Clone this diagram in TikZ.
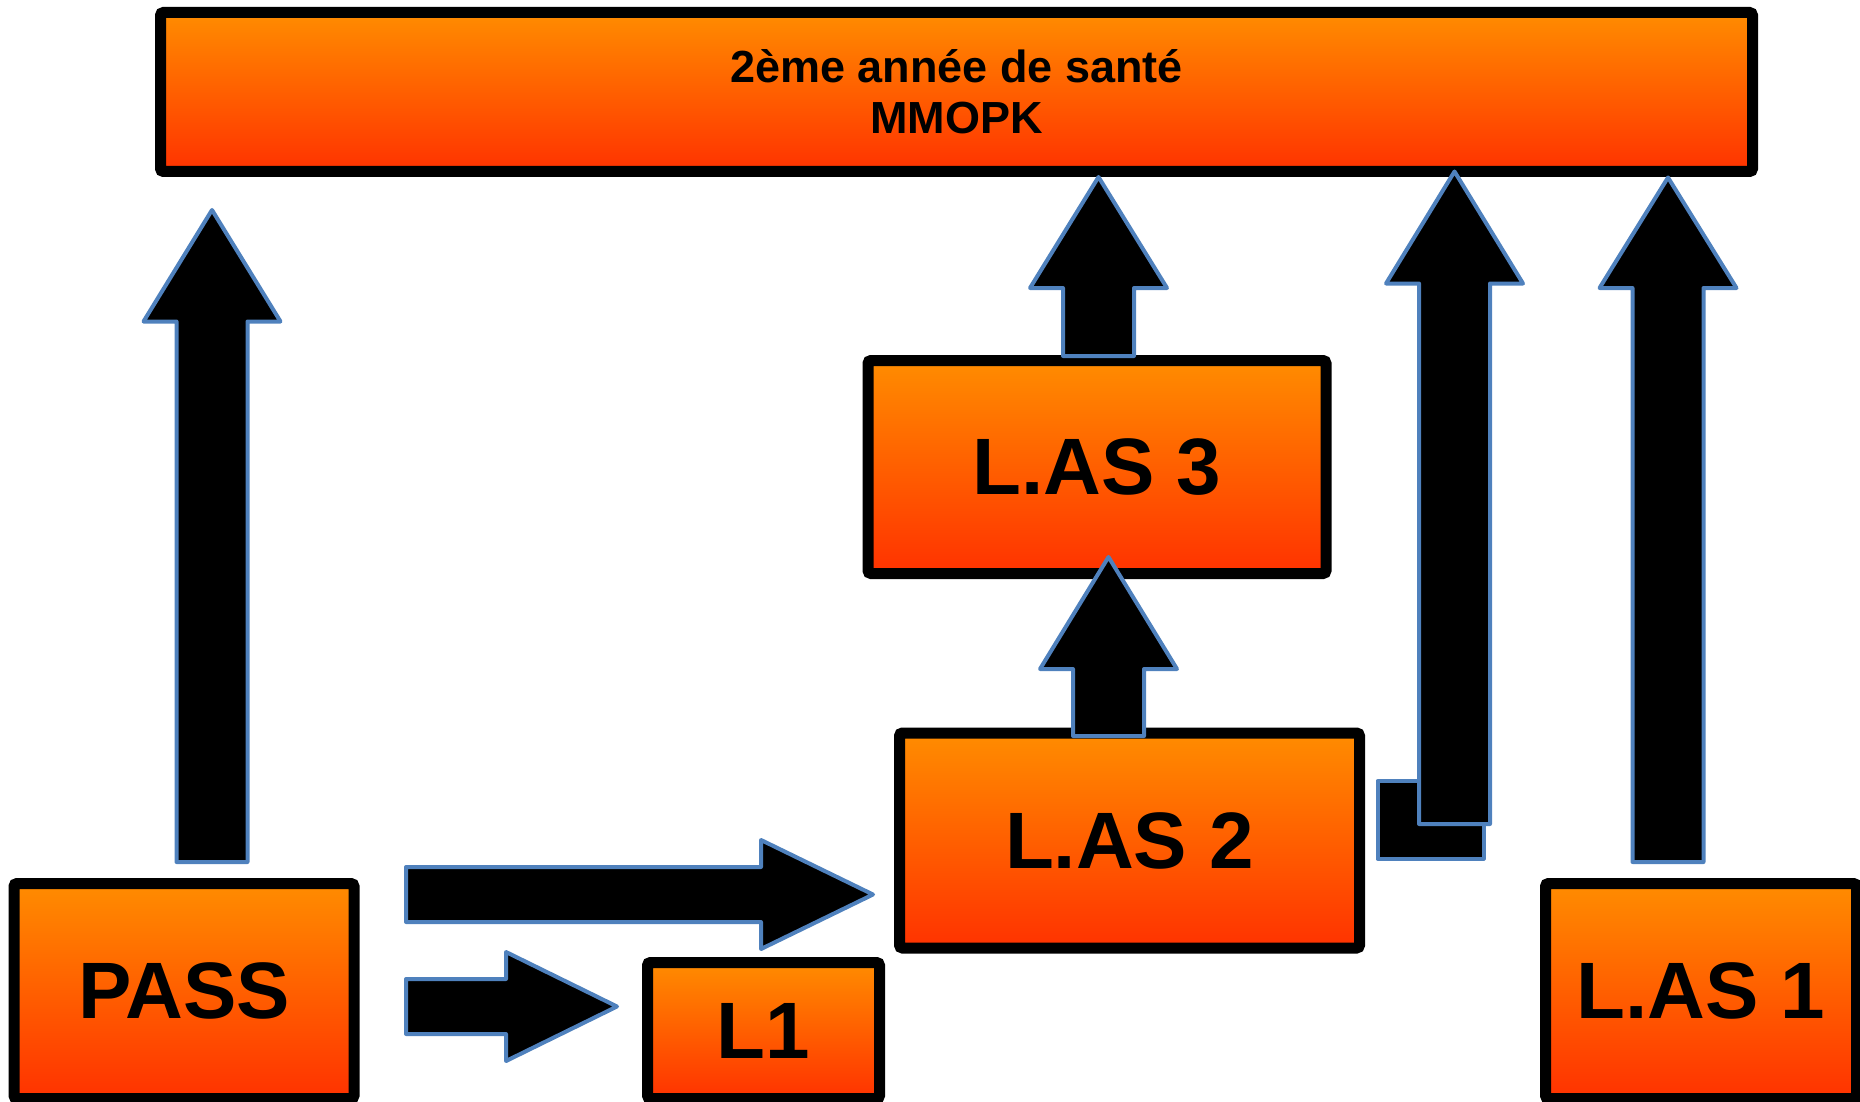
\documentclass[tikz,border=0pt]{standalone}
\usepackage{fontspec}
\setmainfont{Liberation Sans}
\definecolor{boxtop}{RGB}{255,140,0}
\definecolor{boxmid}{RGB}{255,110,0}
\definecolor{boxbot}{RGB}{255,50,0}
\definecolor{arrowblue}{RGB}{79,129,189}
\tikzset{
  yearbox/.style={draw=black, line width=11pt, rounded corners=3pt,
    top color=boxtop, middle color=boxmid, bottom color=boxbot,
    inner sep=0pt, font=\fontsize{80}{96}\selectfont\bfseries},
  blockarr/.style={fill=black, draw=arrowblue, line width=4pt, line join=round}
}
% block arrows: foot, shaft length, head length
\newcommand\blockup[3]{\draw[blockarr] (#1) ++(-35.5,0) -- ++(0,-#2) -- ++(-33,0) -- ++(68.5,-#3) -- ++(68.5,#3) -- ++(-33,0) -- ++(0,#2) -- cycle;}
\newcommand\blockright[3]{\draw[blockarr] (#1) ++(0,-27.5) -- ++(#2,0) -- ++(0,-27) -- ++(#3,54.5) -- ++(-#3,54.5) -- ++(0,-27) -- ++(-#2,0) -- cycle;}
\begin{document}
\begin{tikzpicture}[x=1pt, y=-1pt]
  \useasboundingbox (0,0) rectangle (1860,1102);
  % boxes
  \node[yearbox, minimum width=1592pt, minimum height=159pt, align=center,
    font=\fontsize{45}{51}\selectfont\bfseries] (sante) at (956.5,92) {2ème année de santé\\MMOPK};
  \node[yearbox, minimum width=340pt, minimum height=215pt] (pass) at (184,991) {PASS};
  \node[yearbox, minimum width=232pt, minimum height=136pt] (l1) at (763.5,1030.5) {L1};
  \node[yearbox, minimum width=460pt, minimum height=215pt] (las2) at (1129.5,840.5) {L.AS 2};
  \node[yearbox, minimum width=458pt, minimum height=213pt] (las3) at (1097,467) {L.AS 3};
  \node[yearbox, minimum width=311pt, minimum height=215pt] (las1) at (1701,991) {L.AS 1};
  % arrow feet
  \coordinate (passup) at (212,862);
  \coordinate (passlas) at (406,894.5);
  \coordinate (passl) at (406,1006.5);
  \coordinate (lastwo) at (1108.5,736);
  \coordinate (lasthree) at (1098.5,356);
  \coordinate (bentup) at (1454.5,824);
  \coordinate (lasone) at (1668,862);
  % arrows
  \blockup{passup}{540.5}{111.5}
  \blockright{passlas}{355}{112}
  \blockright{passl}{100}{111}
  \blockup{lastwo}{67}{112}
  \blockup{lasthree}{68}{111}
  \draw[blockarr] (1377.5,781) rectangle (1483.5,858.5);
  \blockup{bentup}{540.5}{112}
  \blockup{lasone}{574}{110.5}
\end{tikzpicture}
\end{document}
